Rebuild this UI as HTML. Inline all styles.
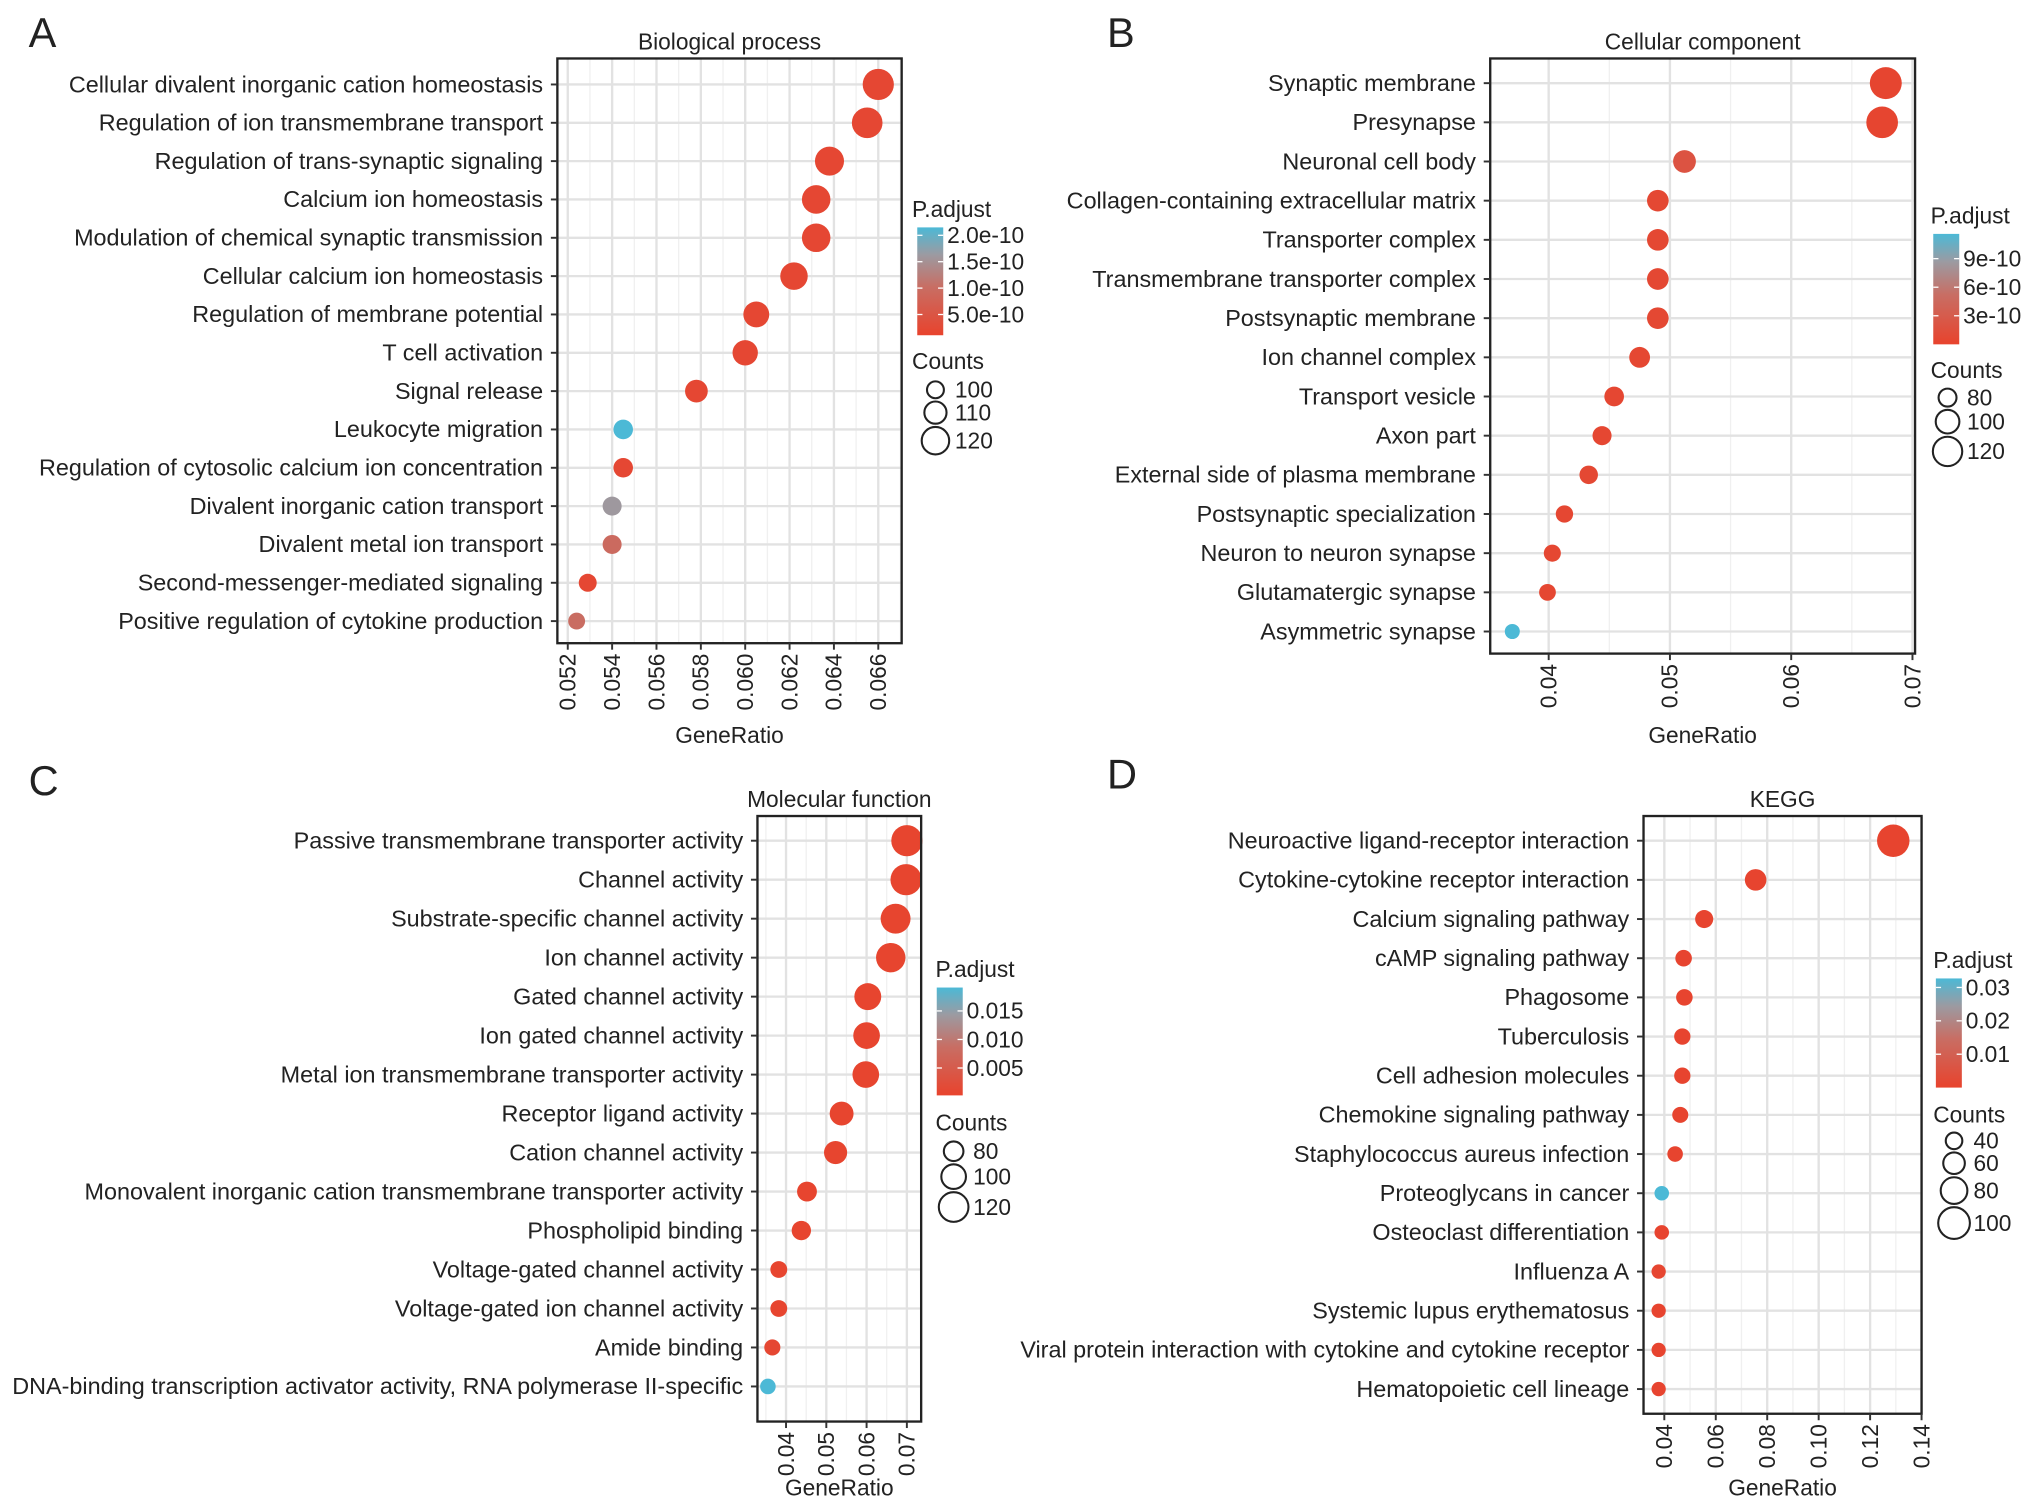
<!DOCTYPE html>
<html><head><meta charset="utf-8"><style>
html,body{margin:0;padding:0;background:#fff}
svg{display:block}
text{font-family:"Liberation Sans",Arial,sans-serif;fill:#222}
</style></head><body>
<svg id="fig" xmlns="http://www.w3.org/2000/svg" width="2032" height="1506" viewBox="0 0 1564 1159" preserveAspectRatio="none"></svg>
<script>
// ---- Panel A: Biological process ----
const aTerms=["Cellular divalent inorganic cation homeostasis","Regulation of ion transmembrane transport","Regulation of trans-synaptic signaling","Calcium ion homeostasis","Modulation of chemical synaptic transmission","Cellular calcium ion homeostasis","Regulation of membrane potential","T cell activation","Signal release","Leukocyte migration","Regulation of cytosolic calcium ion concentration","Divalent inorganic cation transport","Divalent metal ion transport","Second-messenger-mediated signaling","Positive regulation of cytokine production"];
const aRatio=[0.0660,0.0655,0.0638,0.0632,0.0632,0.0622,0.0605,0.0600,0.0578,0.0545,0.0545,0.0540,0.0540,0.0529,0.0524];
const aCount=[127,126,123,122,122,120,117,116,111,105,105,104,104,102,100];
const aPadj=[0.2,0.2,0.2,0.2,0.2,0.2,0.2,0.2,0.2,2.15,0.2,1.6,0.95,0.2,1.0];
const aXTicks=[0.052,0.054,0.056,0.058,0.060,0.062,0.064,0.066];
const aXTickLabels=["0.052","0.054","0.056","0.058","0.060","0.062","0.064","0.066"];
const aPTicks=[2.0,1.5,1.0,0.5];
const aPTickLabels=["2.0e-10","1.5e-10","1.0e-10","5.0e-10"];
const aCountTicks=[100,110,120];
// ---- Panel B: Cellular component ----
const bTerms=["Synaptic membrane","Presynapse","Neuronal cell body","Collagen-containing extracellular matrix","Transporter complex","Transmembrane transporter complex","Postsynaptic membrane","Ion channel complex","Transport vesicle","Axon part","External side of plasma membrane","Postsynaptic specialization","Neuron to neuron synapse","Glutamatergic synapse","Asymmetric synapse"];
const bRatio=[0.0678,0.0675,0.0512,0.0490,0.0490,0.0490,0.0490,0.0475,0.0454,0.0444,0.0433,0.0413,0.0403,0.0399,0.0370];
const bCount=[129,128,97,93,93,93,93,90,86,84,82,78,77,76,70];
const bPadj=[0.3,0.3,2.0,0.6,0.6,0.6,0.6,0.5,0.5,0.5,0.6,0.5,0.5,0.5,11.6];
const bXTicks=[0.04,0.05,0.06,0.07];
const bXTickLabels=["0.04","0.05","0.06","0.07"];
const bPTicks=[9,6,3];
const bPTickLabels=["9e-10","6e-10","3e-10"];
const bCountTicks=[80,100,120];
// ---- Panel C: Molecular function ----
const cTerms=["Passive transmembrane transporter activity","Channel activity","Substrate-specific channel activity","Ion channel activity","Gated channel activity","Ion gated channel activity","Metal ion transmembrane transporter activity","Receptor ligand activity","Cation channel activity","Monovalent inorganic cation transmembrane transporter activity","Phospholipid binding","Voltage-gated channel activity","Voltage-gated ion channel activity","Amide binding","DNA-binding transcription activator activity, RNA polymerase II-specific"];
const cRatio=[0.0700,0.0698,0.0672,0.0660,0.0603,0.0600,0.0598,0.0538,0.0523,0.0452,0.0438,0.0382,0.0382,0.0366,0.0355];
const cCount=[126,126,121,119,109,108,108,97,94,81,79,69,69,66,64];
const cPadj=[0.0005,0.0005,0.0005,0.0005,0.0005,0.0005,0.0005,0.0005,0.0005,0.0005,0.0005,0.0005,0.0005,0.001,0.0191];
const cXTicks=[0.04,0.05,0.06,0.07];
const cXTickLabels=["0.04","0.05","0.06","0.07"];
const cPTicks=[0.015,0.010,0.005];
const cPTickLabels=["0.015","0.010","0.005"];
const cCountTicks=[80,100,120];
// ---- Panel D: KEGG ----
const dTerms=["Neuroactive ligand-receptor interaction","Cytokine-cytokine receptor interaction","Calcium signaling pathway","cAMP signaling pathway","Phagosome","Tuberculosis","Cell adhesion molecules","Chemokine signaling pathway","Staphylococcus aureus infection","Proteoglycans in cancer","Osteoclast differentiation","Influenza A","Systemic lupus erythematosus","Viral protein interaction with cytokine and cytokine receptor","Hematopoietic cell lineage"];
const dRatio=[0.129,0.0755,0.0555,0.0475,0.0478,0.0470,0.0470,0.0462,0.0442,0.0390,0.0390,0.0378,0.0378,0.0378,0.0378];
const dCount=[103,60,46,40,40,39,39,38,36,32,32,31,31,31,31];
const dPadj=[0.0005,0.0005,0.0005,0.0005,0.0005,0.0005,0.0005,0.0005,0.0005,0.0327,0.0005,0.001,0.0005,0.0005,0.0005];
const dXTicks=[0.04,0.06,0.08,0.10,0.12,0.14];
const dXTickLabels=["0.04","0.06","0.08","0.10","0.12","0.14"];
const dPTicks=[0.03,0.02,0.01];
const dPTickLabels=["0.03","0.02","0.01"];
const dCountTicks=[40,60,80,100];

const NS="http://www.w3.org/2000/svg";
const svg=document.getElementById('fig');
function mk(tag,attrs,parent){const e=document.createElementNS(NS,tag);for(const k in attrs)e.setAttribute(k,attrs[k]);(parent||svg).appendChild(e);return e;}
const stops=[[0,[232,67,45]],[0.45,[200,110,100]],[0.75,[155,155,162]],[1,[76,185,214]]];
function pcol(t){t=Math.max(0,Math.min(1,t));for(let i=1;i<stops.length;i++){if(t<=stops[i][0]){const a=stops[i-1],b=stops[i];const u=(t-a[0])/(b[0]-a[0]);const c=a[1].map((v,j)=>Math.round(v+(b[1][j]-v)*u));return `rgb(${c.join(',')})`;}}return 'rgb(76,185,214)';}
const FS=18, TS=17.5;

function panel(cfg,terms,ratio,count,padj,xt,xtl,pt,ptl,ct){
  const g=mk('g',{});
  
  
  const [x0,y0,x1,y1]=cfg.box;
  const xs=v=>cfg.xd[1]+(v-cfg.xd[0])*(cfg.xd[3]-cfg.xd[1])/(cfg.xd[2]-cfg.xd[0]);
  const ys=i=>cfg.rows[0]+i*(cfg.rows[1]-cfg.rows[0])/(terms.length-1);
  const rs=c=>cfg.rs[2]+(c-cfg.rs[0])*(cfg.rs[3]-cfg.rs[2])/(cfg.rs[1]-cfg.rs[0]);
  const pt01=p=>(p-cfg.pd[0])/(cfg.pd[1]-cfg.pd[0]);
  const lt=mk('text',{x:cfg.letter[0],y:cfg.letter[1],'font-size':32},g);lt.textContent=cfg.L;
  
  const ti=mk('text',{x:(x0+x1)/2,y:y0-7,'font-size':TS,'text-anchor':'middle'},g);ti.textContent=cfg.title;
  
  mk('rect',{x:x0,y:y0,width:x1-x0,height:y1-y0,fill:'#fff'},g);
  for(let i=0;i<xt.length-1;i++){const xm=(xs(xt[i])+xs(xt[i+1]))/2;mk('line',{x1:xm,x2:xm,y1:y0,y2:y1,stroke:'#f0f0f0','stroke-width':1},g);}
  const step=xs(xt[1])-xs(xt[0]);
  [xs(xt[0])-step/2,xs(xt[xt.length-1])+step/2].forEach(xm=>{if(xm>x0&&xm<x1)mk('line',{x1:xm,x2:xm,y1:y0,y2:y1,stroke:'#f0f0f0','stroke-width':1},g);});
  xt.forEach(v=>{const x=xs(v);mk('line',{x1:x,x2:x,y1:y0,y2:y1,stroke:'#e2e2e2','stroke-width':1.8},g);});
  terms.forEach((t,i)=>{const y=ys(i);mk('line',{x1:x0,x2:x1,y1:y,y2:y,stroke:'#e2e2e2','stroke-width':1.8},g);});
  terms.forEach((t,i)=>{
    const c=mk('circle',{cx:xs(ratio[i]),cy:ys(i),r:rs(count[i]),fill:pcol(pt01(padj[i]))},g);
    
    
  });
  mk('rect',{x:x0,y:y0,width:x1-x0,height:y1-y0,fill:'none',stroke:'#222','stroke-width':1.8},g);
  terms.forEach((t,i)=>{const y=ys(i);mk('line',{x1:x0-5,x2:x0,y1:y,y2:y,stroke:'#333','stroke-width':1.5},g);
    const tx=mk('text',{x:x0-11,y:y+6,'font-size':FS,'text-anchor':'end'},g);tx.textContent=t;
    });
  xt.forEach((v,i)=>{const x=xs(v);mk('line',{x1:x,x2:x,y1:y1,y2:y1+5,stroke:'#333','stroke-width':1.5},g);
    const tx=mk('text',{x:0,y:0,'font-size':TS,'text-anchor':'end',transform:`translate(${x+6},${y1+8}) rotate(-90)`},g);tx.textContent=xtl[i];
    });
  const xa=mk('text',{x:(x0+x1)/2,y:cfg.xlabY,'font-size':TS,'text-anchor':'middle'},g);xa.textContent='GeneRatio';
  
  const [lx,ly]=cfg.leg;
  const pa=mk('text',{x:lx,y:ly,'font-size':TS},g);pa.textContent='P.adjust';
  
  const gid='grad'+cfg.key;const defs=mk('defs',{},g);const lg=mk('linearGradient',{id:gid,x1:0,y1:1,x2:0,y2:0},defs);
  stops.forEach(s=>mk('stop',{offset:s[0],'stop-color':pcol(s[0])},lg));
  const [bx,bt,bb]=cfg.bar;
  const cb=mk('rect',{x:bx,y:bt,width:20,height:bb-bt,fill:`url(#${gid})`},g);
  
  pt.forEach((p,i)=>{const y=bb-pt01(p)*(bb-bt);
    mk('line',{x1:bx,x2:bx+4,y1:y,y2:y,stroke:'#fff','stroke-width':1},g);mk('line',{x1:bx+16,x2:bx+20,y1:y,y2:y,stroke:'#fff','stroke-width':1},g);
    const tx=mk('text',{x:bx+23,y:y+6,'font-size':TS},g);tx.textContent=ptl[i];
    });
  const ctl=mk('text',{x:lx,y:cfg.cnt[1],'font-size':TS},g);ctl.textContent='Counts';
  
  let cy=cfg.cnt[2];let prev=null;
  ct.forEach((c,i)=>{const r=rs(c);if(prev!==null)cy+=prev+r+2.5;prev=r;
    const ci=mk('circle',{cx:cfg.cnt[0],cy:cy,r:r,fill:'none',stroke:'#222','stroke-width':1.6},g);
    
    const tx=mk('text',{x:cfg.cnt[0]+15,y:cy+6,'font-size':TS},g);tx.textContent=String(c);
    });
}

panel({key:'bp',L:'A',title:'Biological process',letter:[22,36],box:[429,45,694,495],xd:[0.052,437,0.066,676],rows:[65,478],rs:[99,127,6.3,12],pd:[0.107,2.15],xlabY:572,leg:[702,167],bar:[706,175,258],cnt:[720,284,300]},aTerms,aRatio,aCount,aPadj,aXTicks,aXTickLabels,aPTicks,aPTickLabels,aCountTicks);
panel({key:'cc',L:'B',title:'Cellular component',letter:[852,36],box:[1147,45,1474,503],xd:[0.04,1192,0.07,1472],rows:[64,486],rs:[70,129,5.8,12.3],pd:[0,11.6],xlabY:572,leg:[1486,172],bar:[1488,180,265],cnt:[1499,291,306]},bTerms,bRatio,bCount,bPadj,bXTicks,bXTickLabels,bPTicks,bPTickLabels,bCountTicks);
panel({key:'mf',L:'C',title:'Molecular function',letter:[22,612],box:[583,628,709,1094],xd:[0.04,605,0.07,698],rows:[647,1067],rs:[64,126,6,12],pd:[0.0002,0.0191],xlabY:1151,leg:[720,752],bar:[721,760,843],cnt:[734,870,886]},cTerms,cRatio,cCount,cPadj,cXTicks,cXTickLabels,cPTicks,cPTickLabels,cCountTicks);
panel({key:'kegg',L:'D',title:'KEGG',letter:[852,607],box:[1265,628,1479,1088],xd:[0.04,1281,0.14,1479],rows:[647,1069],rs:[31,103,5.5,12.5],pd:[0,0.0327],xlabY:1151,leg:[1488,745],bar:[1490,753,837],cnt:[1504,864,878]},dTerms,dRatio,dCount,dPadj,dXTicks,dXTickLabels,dPTicks,dPTickLabels,dCountTicks);
</script>
</body></html>
